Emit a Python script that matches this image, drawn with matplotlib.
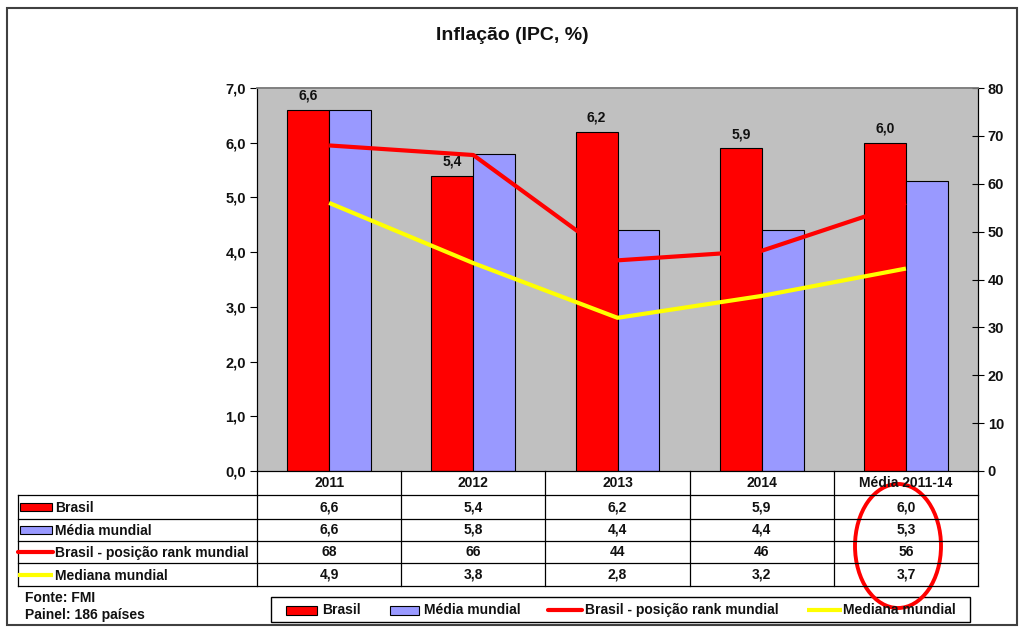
import matplotlib
matplotlib.use('Agg')
import matplotlib.pyplot as plt
import numpy as np
from matplotlib.patches import Rectangle, Ellipse
from matplotlib.lines import Line2D

# ---- data ----
categories = ['2011', '2012', '2013', '2014', 'Média 2011-14']
brasil = [6.6, 5.4, 6.2, 5.9, 6.0]
media_mundial = [6.6, 5.8, 4.4, 4.4, 5.3]
rank_brasil = [68, 66, 44, 46, 56]
mediana_mundial = [4.9, 3.8, 2.8, 3.2, 3.7]
left_ticks = [0, 1, 2, 3, 4, 5, 6, 7]
right_ticks = [0, 10, 20, 30, 40, 50, 60, 70, 80]
series_names = ['Brasil', 'Média mundial', 'Brasil - posição rank mundial', 'Mediana mundial']
title = 'Inflação (IPC, %)'
footer = ['Fonte: FMI', 'Painel: 186 países']

RED = '#FF0000'
BLUE = '#9999FF'
YELLOW = '#FFFF00'
GRAY = '#C0C0C0'
TXT = '#111111'

plt.rcParams['font.family'] = ['Liberation Sans', 'DejaVu Sans']
W, H = 1023, 630
fig = plt.figure(figsize=(W / 100, H / 100), dpi=100)

L, R, T, B = 257, 978, 88, 471
ax = fig.add_axes([L / W, 1 - B / H, (R - L) / W, (B - T) / H])
ax.set_facecolor(GRAY)
x = np.arange(len(categories))
bw = 0.29
ax.bar(x - bw / 2, brasil, bw, color=RED, edgecolor='black', linewidth=0.8, zorder=2)
ax.bar(x + bw / 2, media_mundial, bw, color=BLUE, edgecolor='black', linewidth=0.8, zorder=2)
ax.plot(x, mediana_mundial, color=YELLOW, lw=3, zorder=5, solid_capstyle='butt')
for i, v in enumerate(brasil):
    ax.annotate(f'{v:.1f}'.replace('.', ','), (i - bw / 2, v), xytext=(0, 5),
                textcoords='offset points', ha='center', va='bottom',
                fontsize=10, fontweight='bold', color=TXT)
ax.set_xlim(-0.5, len(categories) - 0.5)
ax.set_ylim(0, 7)
ax.set_xticks([])
ax.set_yticks(left_ticks)
ax.set_yticklabels([f'{v:.1f}'.replace('.', ',') for v in left_ticks],
                   fontsize=10.5, fontweight='bold', color=TXT)
ax.tick_params(axis='y', direction='out', length=5, width=0.8, pad=3)

ax2 = ax.twinx()
ax2.plot(x, rank_brasil, color=RED, lw=3, zorder=5, solid_capstyle='butt')
ax2.set_ylim(0, 80)
ax2.set_yticks(right_ticks)
ax2.set_yticklabels([str(v) for v in right_ticks], fontsize=10.5, fontweight='bold', color=TXT)
ax2.tick_params(axis='y', direction='inout', length=8, width=0.8, pad=3)
for a in (ax, ax2):
    a.spines['top'].set_color('#808080')
    a.spines['top'].set_linewidth(1.2)
    a.spines['bottom'].set_color('black')
    a.spines['bottom'].set_linewidth(0.8)
    a.spines['left'].set_linewidth(0.8)
    a.spines['right'].set_linewidth(0.8)

# ---- overlay (table, legend, frame) ----
ov = fig.add_axes([0, 0, 1, 1], zorder=10)
ov.set_xlim(0, W)
ov.set_ylim(H, 0)
ov.axis('off')
ov.patch.set_alpha(0)

ov.add_patch(Rectangle((7, 8), 1010, 617, fill=False, ec='#404040', lw=1.5))
ov.text(512, 36, title, ha='center', va='center', fontsize=14, fontweight='bold', color=TXT)

rows_y = [471, 495, 519, 541, 563, 586]
ncol = len(categories)
col_x = [L + (R - L) * k / ncol for k in range(ncol + 1)]
lw_t = 0.9
for yy in rows_y[1:]:
    ov.plot([18, R], [yy, yy], color='black', lw=lw_t)
ov.plot([18, 18], [rows_y[1], rows_y[-1]], color='black', lw=lw_t)
for xx in col_x:
    ov.plot([xx, xx], [rows_y[0], rows_y[-1]], color='black', lw=lw_t)

tf = dict(ha='center', va='center', fontsize=10, fontweight='bold', color=TXT)
for k, c in enumerate(categories):
    cx = (col_x[k] + col_x[k + 1]) / 2
    ov.text(cx, (rows_y[0] + rows_y[1]) / 2, c, **tf)
    vals = [f'{brasil[k]:.1f}'.replace('.', ','),
            f'{media_mundial[k]:.1f}'.replace('.', ','),
            str(rank_brasil[k]),
            f'{mediana_mundial[k]:.1f}'.replace('.', ',')]
    for r, v in enumerate(vals):
        ov.text(cx, (rows_y[r + 1] + rows_y[r + 2]) / 2, v, **tf)

lf = dict(ha='left', va='center', fontsize=10, fontweight='bold', color=TXT)
for r, name in enumerate(series_names):
    cy = (rows_y[r + 1] + rows_y[r + 2]) / 2
    if r == 0:
        ov.add_patch(Rectangle((20, cy - 4), 32, 8, fc=RED, ec='black', lw=0.8))
    elif r == 1:
        ov.add_patch(Rectangle((20, cy - 4), 32, 8, fc=BLUE, ec='black', lw=0.8))
    elif r == 2:
        ov.plot([18, 53], [cy, cy], color=RED, lw=3, solid_capstyle='round')
    else:
        ov.plot([18, 53], [cy, cy], color=YELLOW, lw=3, solid_capstyle='butt')
    ov.text(55, cy + 1, name, **lf)

ov.text(25, 598, footer[0], **lf)
ov.text(25, 615, footer[1], **lf)

# bottom legend
ov.add_patch(Rectangle((271, 597), 699, 25, fill=False, ec='black', lw=1))
ly = 610
ov.add_patch(Rectangle((286, ly - 4.5), 31, 9, fc=RED, ec='black', lw=0.8))
ov.text(322, ly, series_names[0], **lf)
ov.add_patch(Rectangle((390, ly - 4.5), 29, 9, fc=BLUE, ec='black', lw=0.8))
ov.text(424, ly, series_names[1], **lf)
ov.plot([548, 582], [ly, ly], color=RED, lw=3, solid_capstyle='round')
ov.text(585, ly, series_names[2], **lf)
ov.plot([807, 842], [ly, ly], color=YELLOW, lw=3, solid_capstyle='butt')
ov.text(843, ly, series_names[3], **lf)

# highlight ellipse
ov.add_patch(Ellipse((898, 546), 86, 124, fill=False, ec=RED, lw=2.8))

fig.savefig('out.png', dpi=100, facecolor='white')
